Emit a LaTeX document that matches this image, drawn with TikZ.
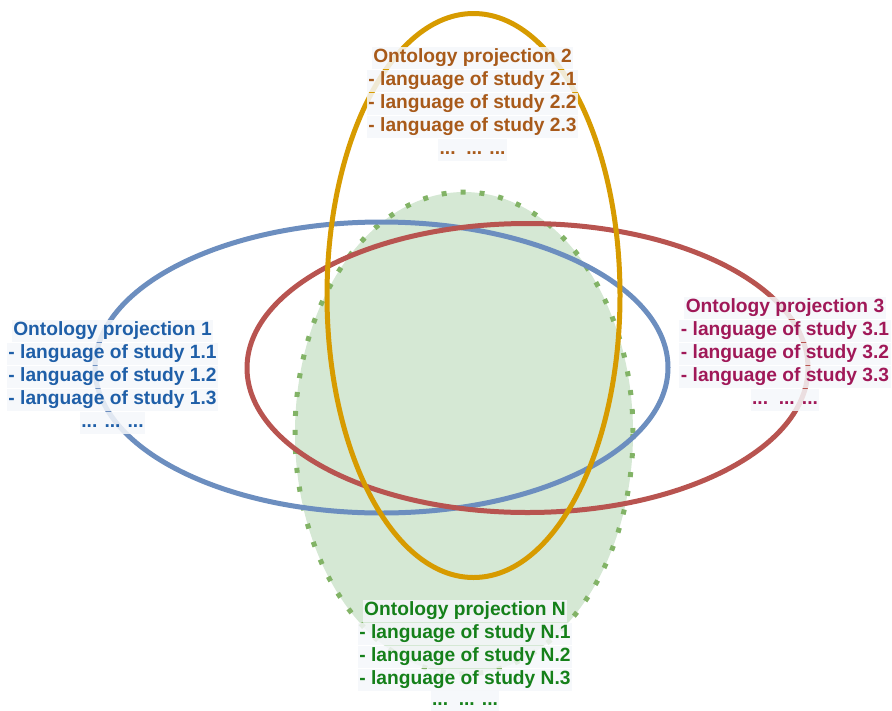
\documentclass[tikz,border=0pt]{standalone}
\usepackage{fontspec}
\setmainfont{Liberation Sans}
\definecolor{bluestroke}{HTML}{6C8EBF}
\definecolor{redstroke}{HTML}{B85450}
\definecolor{orangestroke}{HTML}{D79B00}
\definecolor{greenfill}{HTML}{D5E8D4}
\definecolor{greenstroke}{HTML}{82B366}
\definecolor{bluetext}{HTML}{1F5FA8}
\definecolor{browntext}{HTML}{A85A1A}
\definecolor{pinktext}{HTML}{A01858}
\definecolor{greentext}{HTML}{15801A}
\definecolor{labelbg}{HTML}{F5F7FA}
\tikzset{
  ring/.style={line width=5pt},
  lbl/.style={font=\bfseries\fontsize{19.2}{23}\selectfont, fill=labelbg, fill opacity=0.85, text opacity=1,
    inner xsep=1.5pt, inner ysep=1.5pt, text height=14.5pt, text depth=5pt, anchor=center},
}
\begin{document}
\begin{tikzpicture}[x=1pt,y=-1pt]
\useasboundingbox (0,0) rectangle (892,710);
% green projection N
\fill[greenfill] (464,433) ellipse [x radius=169pt, y radius=241pt];
\draw[greenstroke, line width=5pt, dash pattern=on 5pt off 14pt] (464,433) ellipse [x radius=169pt, y radius=241pt];
% blue projection 1
\draw[ring, bluestroke] (381.5,367.5) ellipse [x radius=286.5pt, y radius=145.5pt];
% red projection 3
\draw[ring, redstroke] (527.5,368) ellipse [x radius=280.5pt, y radius=144.5pt];
% orange projection 2
\draw[ring, orangestroke] (473.5,295.5) ellipse [x radius=146.5pt, y radius=282pt];

% label 1
\begin{scope}[every node/.style={lbl, text=bluetext}]
\node (a0) at (112.5,331) {Ontology projection 1};
\node (a1) at (112.5,354) {- language of study 1.1};
\node (a2) at (112.5,377) {- language of study 1.2};
\node (a3) at (112.5,400) {- language of study 1.3};
\node (a4) at (112.5,423) {... ... ...};
\end{scope}
% label 2
\begin{scope}[every node/.style={lbl, text=browntext}]
\node (b0) at (472.5,58) {Ontology projection 2};
\node (b1) at (472.5,81) {- language of study 2.1};
\node (b2) at (472.5,104) {- language of study 2.2};
\node (b3) at (472.5,127) {- language of study 2.3};
\node (b4) at (472.5,150) {...\ \ ... ...};
\end{scope}
% label 3
\begin{scope}[every node/.style={lbl, text=pinktext}]
\node (c0) at (785,308) {Ontology projection 3};
\node (c1) at (785,331) {- language of study 3.1};
\node (c2) at (785,354) {- language of study 3.2};
\node (c3) at (785,377) {- language of study 3.3};
\node (c4) at (785,400) {...\ \ ... ...};
\end{scope}
% label N
\begin{scope}[every node/.style={lbl, text=greentext}]
\node (d0) at (465,611) {Ontology projection N};
\node (d1) at (465,634) {- language of study N.1};
\node (d2) at (465,657) {- language of study N.2};
\node (d3) at (465,680) {- language of study N.3};
\node (d4) at (465,701) {...\ \ ... ...};
\end{scope}
\end{tikzpicture}
\end{document}
